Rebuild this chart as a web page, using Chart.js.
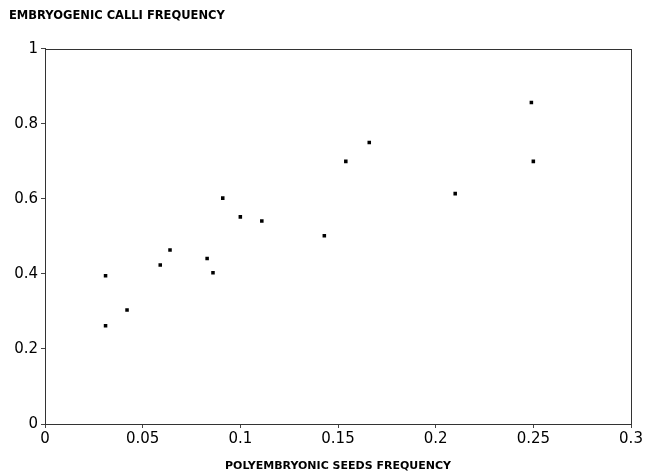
<!DOCTYPE html>
<html>
<head>
<meta charset="utf-8">
<script src="https://cdn.jsdelivr.net/npm/chart.js@4"></script>
<style>
html,body{margin:0;padding:0;background:#fff;}
#wrap{width:646px;height:473px;position:relative;}
</style>
</head>
<body>
<div id="wrap"><canvas id="c" width="646" height="473"></canvas></div>
<script>
const polySeeds = [0.031, 0.031, 0.042, 0.059, 0.064, 0.083, 0.086, 0.091, 0.100, 0.111, 0.143, 0.154, 0.166, 0.210, 0.249, 0.250];
const embCalli  = [0.395, 0.262, 0.304, 0.424, 0.464, 0.441, 0.403, 0.602, 0.552, 0.541, 0.502, 0.700, 0.750, 0.614, 0.857, 0.700];
const xTicks = [0, 0.05, 0.1, 0.15, 0.2, 0.25, 0.3];
const yTicks = [0, 0.2, 0.4, 0.6, 0.8, 1];
const yTitle = 'EMBRYOGENIC CALLI FREQUENCY';
const xTitle = 'POLYEMBRYONIC SEEDS FREQUENCY';

const points = polySeeds.map((x, i) => ({x: x, y: embCalli[i]}));

const frame = {
  id: 'frame',
  afterDatasetsDraw(chart) {
    const a = chart.chartArea, ctx = chart.ctx;
    ctx.save();
    ctx.strokeStyle = '#333';
    ctx.lineWidth = 1;
    ctx.strokeRect(Math.round(a.left) + 0.5, Math.round(a.top) + 0.5, Math.round(a.right - a.left), Math.round(a.bottom - a.top));
    ctx.restore();
  }
};

new Chart(document.getElementById('c'), {
  type: 'scatter',
  data: {
    datasets: [{
      data: points,
      pointStyle: 'rect',
      pointRadius: 2.5,
      pointBackgroundColor: '#000',
      pointBorderColor: '#000',
      pointBorderWidth: 0
    }]
  },
  options: {
    responsive: false,
    animation: false,
    devicePixelRatio: 1,
    layout: {padding: {left: 9, right: 15, top: 5, bottom: 0}},
    plugins: {
      legend: {display: false},
      tooltip: {enabled: false},
      title: {
        display: true,
        text: yTitle,
        align: 'start',
        color: '#000',
        font: {family: 'DejaVu Sans', size: 11.5, weight: 'bold'},
        padding: {top: 4, bottom: 26}
      }
    },
    scales: {
      x: {
        type: 'linear',
        min: 0, max: 0.3,
        afterBuildTicks(s) { s.ticks = xTicks.map(v => ({value: v})); },
        afterFit(s) { s.height = 49; },
        grid: {drawOnChartArea: false, drawTicks: true, tickLength: 4, color: '#444'},
        border: {display: true, color: '#333'},
        ticks: {color: '#000', padding: 2, font: {family: 'DejaVu Sans', size: 15}, maxRotation: 0,
                callback: v => String(v)},
        title: {display: true, text: xTitle, color: '#000', padding: {top: 10, bottom: 0},
                font: {family: 'DejaVu Sans', size: 11, weight: 'bold'}}
      },
      y: {
        type: 'linear',
        min: 0, max: 1,
        afterBuildTicks(s) { s.ticks = yTicks.map(v => ({value: v})); },
        afterFit(s) { s.width = 36; },
        grid: {drawOnChartArea: false, drawTicks: true, tickLength: 4, color: '#444'},
        border: {display: true, color: '#333'},
        ticks: {color: '#000', padding: 3, font: {family: 'DejaVu Sans', size: 15},
                callback: v => String(v)}
      }
    }
  },
  plugins: [frame]
});
</script>
</body>
</html>
